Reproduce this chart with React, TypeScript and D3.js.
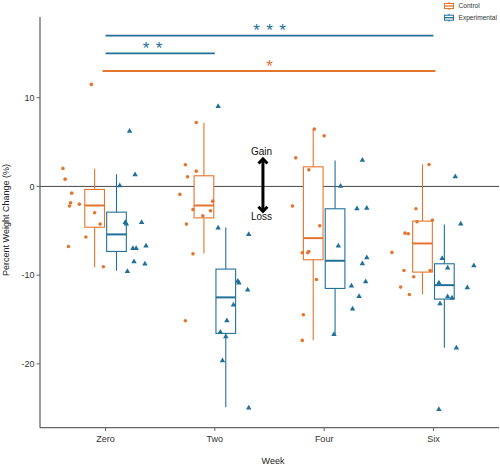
import React from "react";
import * as d3 from "d3";

const weeks = ["Zero", "Two", "Four", "Six"];
const groups = ["Control", "Experimental"];
const yTicks = [10, 0, -10, -20];

// box stats per week
const ctrlLo = [-9.1, -7.55, -17.33, -12.14];
const ctrlQ1 = [-4.6, -3.54, -8.27, -9.66];
const ctrlMed = [-2.15, -2.15, -5.83, -6.43];
const ctrlQ3 = [-0.34, 1.2, 2.21, -3.91];
const ctrlHi = [2.0, 7.17, 6.46, 2.48];

const expLo = [-9.5, -24.9, -16.65, -18.2];
const expQ1 = [-7.33, -16.57, -11.5, -12.7];
const expMed = [-5.41, -12.51, -8.38, -11.13];
const expQ3 = [-2.9, -9.32, -2.52, -8.72];
const expHi = [1.39, -4.62, 2.93, -4.28];

// individual observations (percent change) and their horizontal jitter (week units)
const ctrlVals = [
  [2.03, 0.82, -0.76, -1.85, -2.2, -2.0, -2.97, -4.25, -5.7, -6.77, -9.06, 11.5],
  [7.2, 2.44, 1.72, 1.08, -0.9, -1.66, -2.6, -2.75, -3.31, -4.25, -7.6, -15.15],
  [6.46, 5.7, 3.22, 1.87, -2.22, -4.44, -7.33, -7.48, -7.48, -10.5, -14.47, -17.36],
  [2.48, -2.52, -3.99, -3.8, -5.27, -5.34, -7.44, -9.47, -9.47, -10.19, -11.35, -12.18],
];
const ctrlJit = [
  [-0.39, -0.37, -0.31, -0.32, -0.33, -0.24, -0.1, -0.05, -0.18, -0.34, -0.02, -0.13],
  [-0.17, -0.27, -0.17, -0.25, -0.32, -0.02, -0.2, -0.04, -0.11, -0.26, -0.2, -0.27],
  [-0.09, 0.0, -0.26, -0.14, -0.29, -0.04, -0.14, -0.15, -0.2, -0.07, -0.19, -0.2],
  [-0.04, -0.16, -0.15, -0.01, -0.26, -0.23, -0.38, -0.27, -0.03, -0.18, -0.3, -0.22],
];
const expVals = [
  [6.3, 1.39, 0.15, -3.99, -4.17, -3.99, -6.92, -6.92, -6.65, -8.42, -8.68, -9.5],
  [9.09, -4.6, -5.34, -10.6, -10.8, -11.6, -13.3, -15.07, -16.35, -16.88, -19.58, -24.9],
  [3.04, 0.11, -2.45, -2.37, -6.65, -7.97, -8.65, -10.68, -11.16, -12.33, -13.75, -16.62],
  [1.16, -4.17, -8.05, -9.13, -8.87, -10.82, -11.35, -12.37, -12.51, -13.16, -18.15, -25.07],
];
const expJit = [
  [0.22, 0.27, 0.13, 0.18, 0.19, 0.33, 0.25, 0.28, 0.37, 0.26, 0.36, 0.2],
  [0.03, 0.03, 0.31, 0.21, 0.22, 0.3, 0.17, 0.11, 0.05, 0.1, 0.07, 0.31],
  [0.35, 0.15, 0.3, 0.39, 0.13, 0.39, 0.35, 0.38, 0.25, 0.32, 0.26, 0.09],
  [0.2, 0.25, 0.08, 0.13, 0.37, 0.05, 0.31, 0.13, 0.17, 0.06, 0.21, 0.05],
];

// significance brackets
const sigFrom = [1, 1, 1];
const sigTo = [4, 2, 4];
const sigLevel = [17, 15, 13];
const sigLabel = ["***", "**", "*"];
const sigGroup = ["Experimental", "Experimental", "Control"];
const sigLabelX = [2.5, 1.43, 2.5];

const COLORS: Record<string, string> = { Control: "#E4752F", Experimental: "#21709A" };

const W = 500;
const H = 466;

export default function App() {
  const x = d3.scaleLinear().domain([0.4, 4.6]).range([40, 499]);
  const y = d3.scaleLinear().domain([-27.2, 19.1]).range([427.7, 17]);
  const unit = x(1) - x(0);
  const dodge = 0.1;
  const boxW = 0.18 * unit;

  const tri = d3.symbol().type(d3.symbolTriangle).size(13)();

  const boxes = groups.map((g, gi) => {
    const lo = gi === 0 ? ctrlLo : expLo;
    const q1 = gi === 0 ? ctrlQ1 : expQ1;
    const med = gi === 0 ? ctrlMed : expMed;
    const q3 = gi === 0 ? ctrlQ3 : expQ3;
    const hi = gi === 0 ? ctrlHi : expHi;
    const off = gi === 0 ? -dodge : dodge;
    const c = COLORS[g];
    return weeks.map((w, i) => {
      const cx = x(i + 1 + off);
      return (
        <g key={g + w}>
          <line x1={cx} x2={cx} y1={y(hi[i])} y2={y(q3[i])} stroke={c} strokeWidth={1.1} />
          <line x1={cx} x2={cx} y1={y(q1[i])} y2={y(lo[i])} stroke={c} strokeWidth={1.1} />
          <rect x={cx - boxW / 2} y={y(q3[i])} width={boxW} height={y(q1[i]) - y(q3[i])} fill="white" stroke={c} strokeWidth={1.1} />
          <line x1={cx - boxW / 2} x2={cx + boxW / 2} y1={y(med[i])} y2={y(med[i])} stroke={c} strokeWidth={2} />
        </g>
      );
    });
  });

  const points = groups.map((g, gi) => {
    const vals = gi === 0 ? ctrlVals : expVals;
    const jit = gi === 0 ? ctrlJit : expJit;
    const c = COLORS[g];
    return vals.map((arr, i) =>
      arr.map((v, j) => {
        const px = x(i + 1 + jit[i][j]);
        const py = y(v);
        return gi === 0 ? (
          <circle key={`${g}-${i}-${j}`} cx={px} cy={py} r={1.8} fill={c} />
        ) : (
          <path key={`${g}-${i}-${j}`} d={tri || ""} transform={`translate(${px},${py + 0.6})`} fill={c} />
        );
      })
    );
  });

  const arrowX = x(2.44);
  const aTop = y(3.15);
  const aBot = y(-2.86);

  return (
    <svg width={W} height={H} style={{ position: "absolute", left: 0, top: 0, background: "white" }} fontFamily="'Liberation Sans', Arial, sans-serif">
      <rect x={0} y={0} width={W} height={H} fill="white" />
      {/* zero line */}
      <line x1={x(0.4)} x2={x(4.6)} y1={y(0)} y2={y(0)} stroke="#333" strokeWidth={0.9} />

      {/* significance brackets */}
      {sigFrom.map((f, i) => {
        const c = COLORS[sigGroup[i]];
        const ly = y(sigLevel[i]);
        const n = sigLabel[i].length;
        const cx = x(sigLabelX[i]);
        return (
          <g key={"sig" + i}>
            <line x1={x(f) - (sigGroup[i] === "Control" ? 3 : 0)} x2={x(sigTo[i]) + (sigGroup[i] === "Control" ? 2 : 0)} y1={ly} y2={ly} stroke={c} strokeWidth={sigGroup[i] === "Control" ? 2 : 1.6} />
            {d3.range(n).map((k) => (
              <text key={k} x={cx + (k - (n - 1) / 2) * 13} y={ly + 0.5} fontSize={17} fill={c} textAnchor="middle">
                *
              </text>
            ))}
          </g>
        );
      })}

      {boxes}
      {points}

      {/* gain / loss arrow */}
      <line x1={arrowX} x2={arrowX} y1={aTop + 1} y2={aBot - 1} stroke="black" strokeWidth={3} />
      <polyline points={`${arrowX - 4.5},${aTop + 5} ${arrowX},${aTop + 0.5} ${arrowX + 4.5},${aTop + 5}`} fill="none" stroke="black" strokeWidth={3} />
      <polyline points={`${arrowX - 4.5},${aBot - 5} ${arrowX},${aBot - 0.5} ${arrowX + 4.5},${aBot - 5}`} fill="none" stroke="black" strokeWidth={3} />
      <text x={arrowX - 1.5} y={y(3.9)} dy="0.3em" fontSize={10} textAnchor="middle" fill="#111">Gain</text>
      <text x={arrowX - 1.5} y={y(-3.35)} dy="0.4em" fontSize={10} textAnchor="middle" fill="#111">Loss</text>

      {/* axes */}
      <line x1={40} x2={40} y1={y(19.1)} y2={y(-27.2)} stroke="#666" strokeWidth={1.3} />
      <line x1={40} x2={x(4.6)} y1={y(-27.2)} y2={y(-27.2)} stroke="#666" strokeWidth={1.3} />
      {yTicks.map((t) => (
        <g key={"yt" + t}>
          <line x1={36.5} x2={40} y1={y(t)} y2={y(t)} stroke="#666" strokeWidth={1} />
          <text x={34.5} y={y(t)} dy="0.35em" fontSize={9} textAnchor="end" fill="#333">
            {t}
          </text>
        </g>
      ))}
      {weeks.map((w, i) => (
        <g key={"xt" + w}>
          <line x1={x(i + 1)} x2={x(i + 1)} y1={428} y2={431} stroke="#666" strokeWidth={1} />
          <text x={x(i + 1)} y={442} fontSize={9} textAnchor="middle" fill="#333">
            {w}
          </text>
        </g>
      ))}
      <text x={273} y={464} fontSize={9} textAnchor="middle" fill="#222">Week</text>
      <text transform={`translate(8.5,220) rotate(-90)`} fontSize={9} textAnchor="middle" fill="#222">
        Percent Weight Change (%)
      </text>

      {/* legend */}
      {groups.map((g, gi) => {
        const cy = gi === 0 ? 6 : 17.7;
        const c = COLORS[g];
        return (
          <g key={"lg" + g}>
            <line x1={449} x2={449} y1={cy - 4} y2={cy + 4} stroke={c} strokeWidth={1} />
            <rect x={444.5} y={cy - 2.5} width={9} height={5} fill="white" stroke={c} strokeWidth={1} />
            <line x1={444.5} x2={453.5} y1={cy} y2={cy} stroke={c} strokeWidth={1.3} />
            <text x={458.5} y={cy} dy="0.35em" fontSize={6.6} fill="#333">
              {g}
            </text>
          </g>
        );
      })}
    </svg>
  );
}
